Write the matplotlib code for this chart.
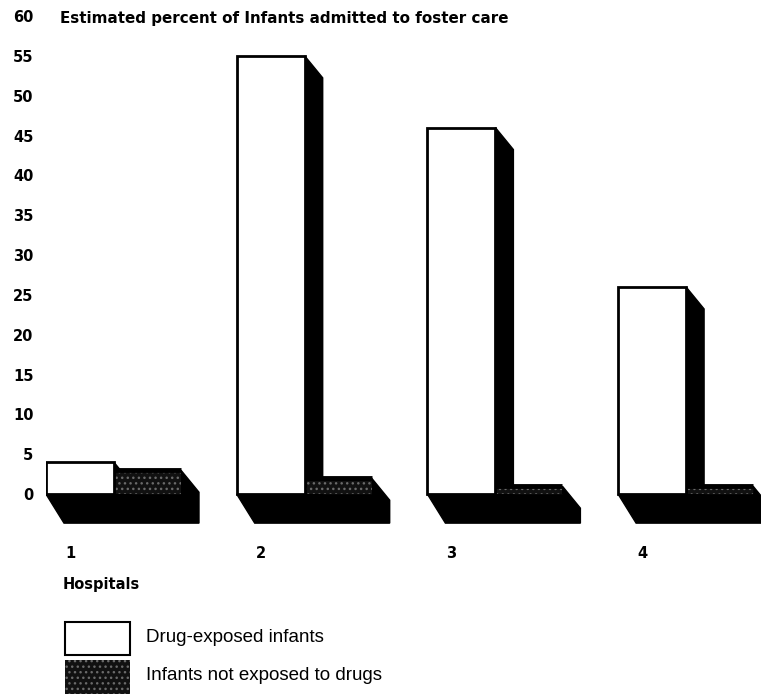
import matplotlib
matplotlib.use("Agg")
import matplotlib.pyplot as plt
from matplotlib.patches import Polygon, Rectangle

plt.rcParams['font.family'] = ['Liberation Sans', 'DejaVu Sans']

# ---- data ----
hospitals = ["1", "2", "3", "4"]
drug_exposed = [4, 55, 46, 26]
not_exposed = [3, 2, 1, 1]
yticks = list(range(0, 61, 5))
title = "Estimated percent of Infants admitted to foster care"
xlabel = "Hospitals"
series_names = ["Drug-exposed infants", "Infants not exposed to drugs"]

# ---- style / geometry ----
W, H = 761, 695
fig = plt.figure(figsize=(W / 100, H / 100), dpi=100)
ax = fig.add_axes([46 / W, (H - 530) / H, 1 - 46 / W, 514 / H])
ax.set_xlim(0, (W - 46) / 190.7)
ax.set_ylim(-4.5, 60)

w1 = 68 / 190.7        # front bar width
w2 = 67 / 190.7        # rear bar width
dx = 18 / 190.7        # depth offset in x
dyt = 22 / 7.97        # depth offset of tops (down)
D = 29 / 7.97          # floor depth

dot_face = '#111111'
dot_col = '#6a6a6a'
bold = dict(family=['DejaVu Sans'], fontweight='bold', fontsize=10.5)

for i, (v1, v2) in enumerate(zip(drug_exposed, not_exposed)):
    xL = i
    xM = i + w1
    xR = xM + w2
    # floor + right side of rear bar
    floor = Polygon([(xL, 0), (xL + dx, -D), (xR + dx, -D),
                     (xR + dx, v2 - dyt), (xR, v2), (xR, 0)],
                    closed=True, facecolor='black', edgecolor='black', lw=1, zorder=1)
    ax.add_patch(floor)
    # side of front bar
    side = Polygon([(xM, v1), (xM + dx, v1 - dyt), (xM + dx, 0), (xM, 0)],
                   closed=True, facecolor='black', edgecolor='black', lw=1, zorder=2)
    ax.add_patch(side)
    # rear (not exposed) bar face
    ax.bar(xM, v2, width=w2, align='edge', bottom=0, color=dot_face,
           edgecolor=dot_col, hatch='...', lw=0, zorder=3)
    ax.plot([xM, xR], [v2, v2], color='black', lw=3.5, zorder=4, solid_capstyle='butt')
    # front (drug-exposed) bar
    ax.bar(xL, v1, width=w1, align='edge', bottom=0, color='white',
           edgecolor='black', lw=2, zorder=5)

for s in ax.spines.values():
    s.set_visible(False)
ax.set_yticks(yticks)
ax.set_yticklabels([str(t) for t in yticks], **bold)
ax.tick_params(axis='y', length=0, pad=9)
ax.set_xticks([])
label_y = (H - 553 - (H - 530)) / 514
for i, h in enumerate(hospitals):
    ax.text(i + 24 / 190.7, label_y, h, transform=ax.get_xaxis_transform(),
            ha='center', va='center', **bold)

fig.text(60 / W, 1 - 18 / H, title, ha='left', va='center',
         family=['DejaVu Sans'], fontweight='bold', fontsize=10.9)
fig.text(63 / W, 1 - 584 / H, xlabel, ha='left', va='center', **bold)

# legend
fig.patches.append(Rectangle((65 / W, 1 - 655 / H), 65 / W, 33 / H, transform=fig.transFigure,
                             facecolor='white', edgecolor='black', lw=1.5, figure=fig))
fig.patches.append(Rectangle((65 / W, 1 - 694 / H), 65 / W, 34 / H, transform=fig.transFigure,
                             facecolor=dot_face, edgecolor=dot_col, hatch='...', lw=0, figure=fig))
fig.text(146 / W, 1 - 637 / H, series_names[0], ha='left', va='center', fontsize=13.5)
fig.text(146 / W, 1 - 676 / H, series_names[1], ha='left', va='center', fontsize=13.5)

fig.savefig("out.png", dpi=100)
